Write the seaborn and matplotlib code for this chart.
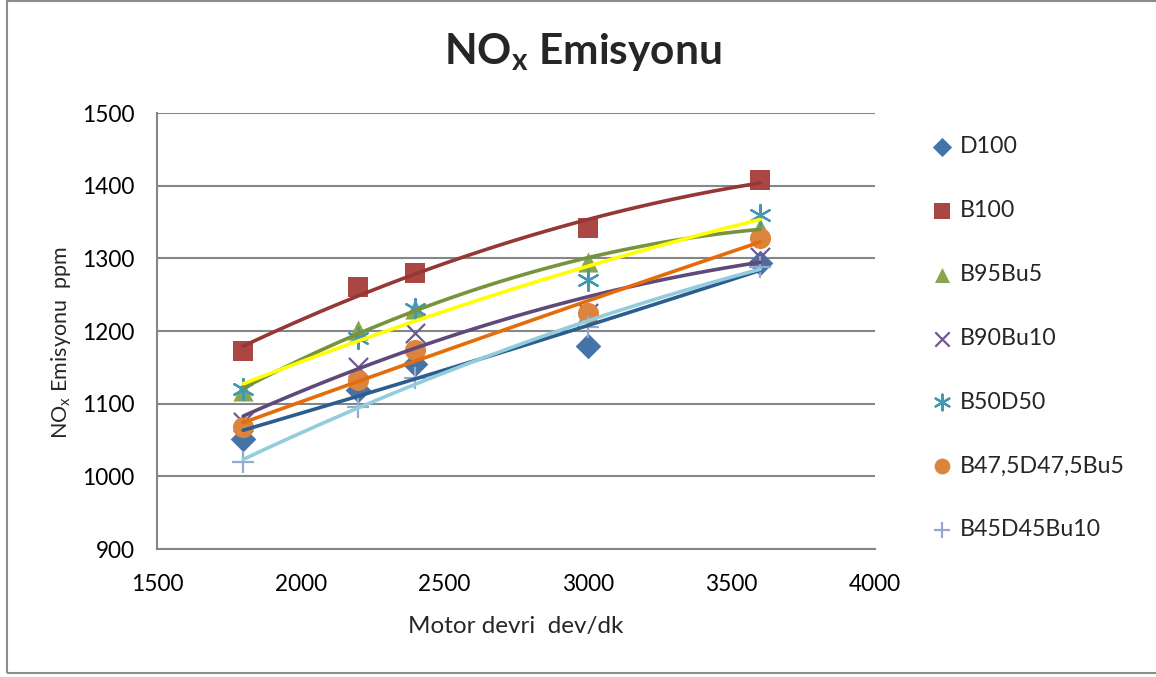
import matplotlib
matplotlib.use("Agg")
import matplotlib.pyplot as plt
from matplotlib.patches import Rectangle
import pandas as pd
import seaborn as sns

# data
rpm = [1800, 2200, 2400, 3000, 3600]
d100 = [1052, 1119, 1155, 1180, 1293]
b100 = [1172, 1261, 1280, 1342, 1408]
b95bu5 = [1118, 1201, 1230, 1295, 1342]
b90bu10 = [1075, 1150, 1197, 1225, 1302]
b50d50 = [1120, 1190, 1230, 1270, 1360]
b475 = [1068, 1132, 1174, 1225, 1328]
b45d45bu10 = [1020, 1095, 1135, 1205, 1288]

names = ['D100', 'B100', 'B95Bu5', 'B90Bu10', 'B50D50', 'B47,5D47,5Bu5', 'B45D45Bu10']
series = [d100, b100, b95bu5, b90bu10, b50d50, b475, b45d45bu10]
mcolors = ['#4572A7', '#AA4643', '#89A54E', '#71588F', '#4198AF', '#DB843D', '#93A9CF']
tcolors = ['#2C5D8F', '#953735', '#77933C', '#5F497A', '#FFFF00', '#E46C0A', '#93CDDD']
markers = ['D', 's', '^', 'x', (6, 2, 0), 'o', '+']
sizes = [170, 210, 210, 190, 230, 230, 230]

sns.set_style("white")
plt.rcParams['font.family'] = ['Lato', 'DejaVu Sans']
plt.rcParams['mathtext.fontset'] = 'custom'
plt.rcParams['mathtext.rm'] = 'Lato'
plt.rcParams['mathtext.bf'] = 'Lato:bold'

fig = plt.figure(figsize=(11.56, 6.77), dpi=100)
ax = fig.add_axes([157/1156, 1-549/677, 718/1156, 436/677])

for name, vals, mc, tc, mk, sz in zip(names, series, mcolors, tcolors, markers, sizes):
    df = pd.DataFrame({'rpm': rpm, 'nox': vals})
    filled = mk not in ('x', '+', (6, 2, 0))
    sns.scatterplot(data=df, x='rpm', y='nox', ax=ax, marker=mk, s=sz,
                    color=mc, edgecolor=mc if filled else None,
                    linewidth=0 if filled else 1.6, label=name, zorder=3)
    sns.regplot(data=df, x='rpm', y='nox', ax=ax, order=2, ci=None, scatter=False,
                line_kws={'color': tc, 'lw': 2.6, 'zorder': 4})

ax.set_xlim(1500, 4000)
ax.set_ylim(900, 1500)
ax.set_xticks(range(1500, 4001, 500))
ax.set_yticks(range(900, 1501, 100))
ax.yaxis.grid(True, color='#868686', lw=1.5)
ax.xaxis.grid(False)
for s in ['top', 'right']:
    ax.spines[s].set_visible(False)
for s in ['left', 'bottom']:
    ax.spines[s].set_color('#868686')
    ax.spines[s].set_linewidth(1.5)
ax.tick_params(axis='both', direction='out', length=5, width=1.5, color='#868686',
               labelsize=16.3, labelcolor='black')
ax.tick_params(axis='x', pad=13)
ax.tick_params(axis='y', pad=11)
ax.set_xlabel('')
ax.set_ylabel('')

fig.text(516/1156, 1-626/677, 'Motor devri  dev/dk', ha='center', va='center', fontsize=17.5)
fig.text(61/1156, 1-343/677, r'NO$_\mathrm{x}$ Emisyonu  ppm', ha='center', va='center',
         rotation=90, fontsize=15.5)
fig.text(583/1156, 1-52/677, r'NO$_\mathbf{x}$ Emisyonu', ha='center', va='center',
         fontsize=30.5, fontweight='bold')

leg = ax.legend(loc='upper left', bbox_to_anchor=(912/1156, 1-115/677),
                bbox_transform=fig.transFigure, frameon=False, fontsize=16.7,
                labelspacing=1.85, handlelength=0.8, handletextpad=0.35, markerscale=0.75)

fig.patches.append(Rectangle((7/1156, 1-673/677), 1.2, 672/677, transform=fig.transFigure,
                             fill=False, edgecolor='#8C8C8C', lw=1.5))

fig.savefig('out.png', dpi=100, facecolor='white')
